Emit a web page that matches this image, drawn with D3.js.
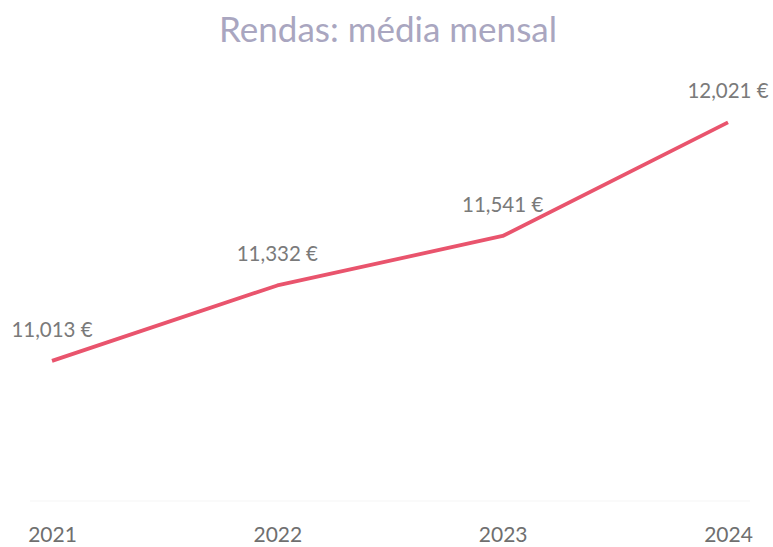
<html>
<head>
<meta charset="utf-8">
<title>Rendas: média mensal</title>
<style>
  body { margin: 0; background: #fff; }
  .title { fill: #a9a6c0; font-size: 35px; text-anchor: middle; }
  .val { fill: #7a7a7a; font-size: 20.5px; text-anchor: middle; }
  .axis text { fill: #6f6f6f; }
</style>
</head>
<body>
<script src="https://cdn.jsdelivr.net/npm/d3@7"></script>
<script>
  var width = 773;
  var height = 547;

  var years = ["2021", "2022", "2023", "2024"];
  var rendas = [11013, 11332, 11541, 12021];

  var svg = d3.select("body").append("svg")
      .attr("width", width)
      .attr("height", height)
      .style("font-family", "Lato, 'Open Sans', sans-serif");

  svg.append("text")
      .attr("class", "title")
      .attr("x", 388)
      .attr("y", 42)
      .text("Rendas: média mensal");

  var x = d3.scalePoint()
      .domain(years)
      .range([52, 728]);

  // escala y: 11013 -> 361px, 12021 -> 122px
  var y = d3.scaleLinear()
      .domain([10400, 12200])
      .range([506, 80]);

  // linha de base quase invisível
  svg.append("line")
      .attr("x1", 30).attr("x2", 750)
      .attr("y1", 501).attr("y2", 501)
      .attr("stroke", "#f5f5f5")
      .attr("stroke-width", 1);

  var line = d3.line()
      .x(function (d, i) { return x(years[i]); })
      .y(function (d) { return y(d); });

  svg.append("path")
      .datum(rendas)
      .attr("fill", "none")
      .attr("stroke", "#e9546d")
      .attr("stroke-width", 3.8)
      .attr("stroke-linejoin", "round")
      .attr("d", line);

  var fmt = d3.format(",");

  svg.selectAll(".val")
      .data(rendas)
      .enter()
      .append("text")
      .attr("class", "val")
      .attr("x", function (d, i) { return x(years[i]); })
      .attr("y", function (d) { return y(d) - 24; })
      .text(function (d) { return fmt(d) + " €"; });

  var axis = svg.append("g")
      .attr("class", "axis")
      .attr("transform", "translate(0,527)")
      .call(d3.axisBottom(x).tickSize(0).tickPadding(0));

  axis.select(".domain").remove();
  axis.selectAll("text")
      .attr("dy", "0.71em")
      .attr("font-family", "Lato, 'Open Sans', sans-serif")
      .attr("font-size", 21);
</script>
</body>
</html>
